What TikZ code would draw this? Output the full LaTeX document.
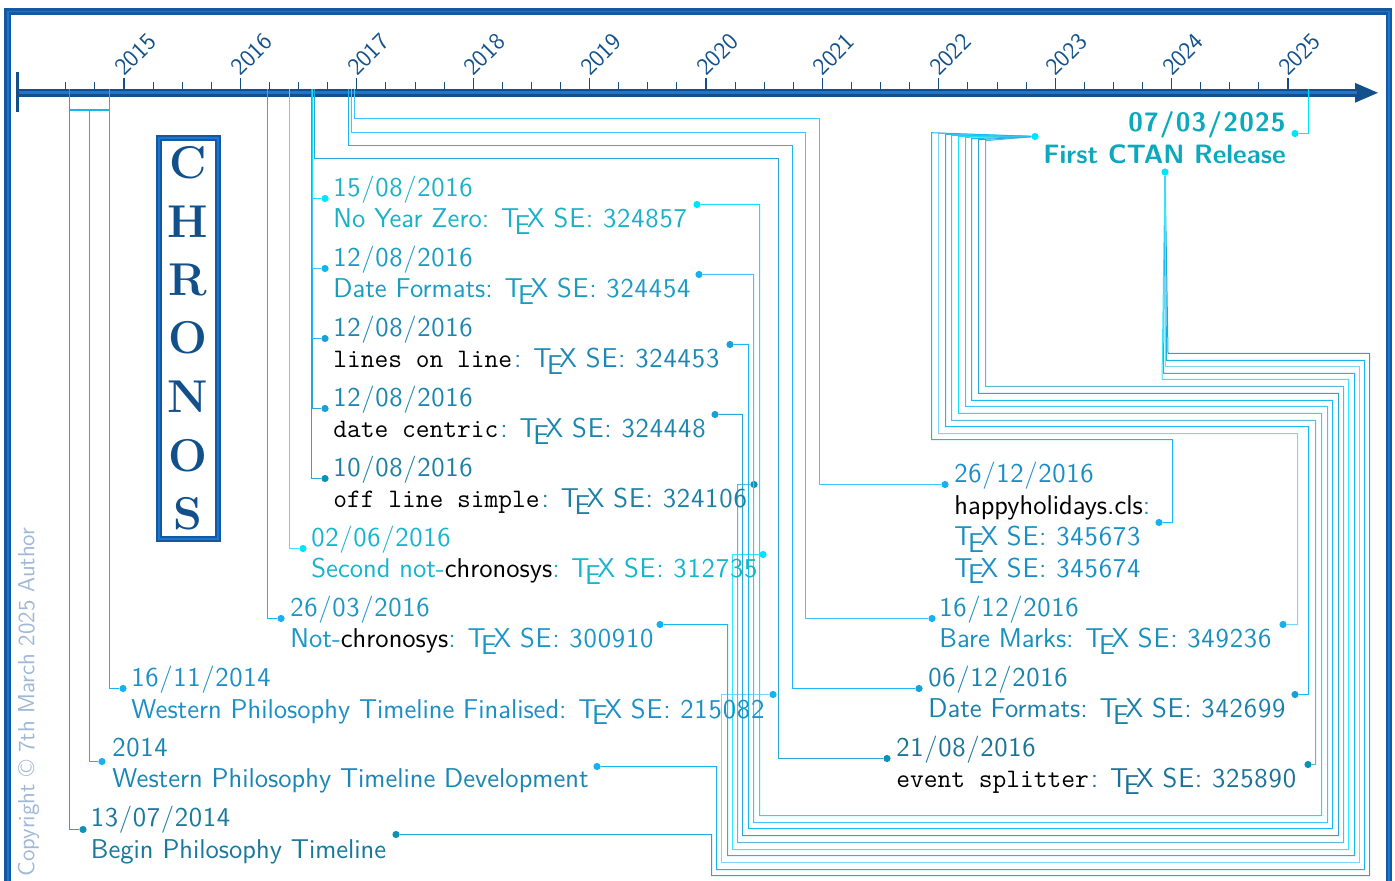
\documentclass[tikz,border=0pt]{standalone}
\usepackage{fontspec}
\setsansfont{Latin Modern Sans}
\usetikzlibrary{arrows.meta}
\definecolor{axisdark}{HTML}{12508C}
\definecolor{axismid}{HTML}{1976D2}
\definecolor{framedark}{HTML}{1459A0}
\definecolor{copytext}{HTML}{A0B8D8}
\definecolor{lnBegin}{HTML}{20A8D8}
\definecolor{lnDev}{HTML}{18B4EC}
\definecolor{lnFinal}{HTML}{7CD4F8}
\definecolor{lnNot}{HTML}{1AB7EE}
\definecolor{lnSecond}{HTML}{30EBFF}
\definecolor{lnOff}{HTML}{5BB8DA}
\definecolor{lnCentric}{HTML}{29A8D8}
\definecolor{lnLines}{HTML}{18B8F5}
\definecolor{lnFormats}{HTML}{40C4FF}
\definecolor{lnZero}{HTML}{18E0F8}
\definecolor{lnCtan}{HTML}{00E5FF}
\definecolor{dotBegin}{HTML}{0E90B8}
\definecolor{dotBright}{HTML}{18B0F0}
\definecolor{dotMid}{HTML}{1AA0D8}
\definecolor{txBegin}{HTML}{1A789C}
\definecolor{txDev}{HTML}{1A86B4}
\definecolor{txFinal}{HTML}{1C8FC6}
\definecolor{txNot}{HTML}{1C96C8}
\definecolor{txSecond}{HTML}{14B5CE}
\definecolor{txOff}{HTML}{1C7FA5}
\definecolor{txCentric}{HTML}{1A86AE}
\definecolor{txLines}{HTML}{1C87B4}
\definecolor{txFormats}{HTML}{1A9BC2}
\definecolor{txZero}{HTML}{1AB0C6}
\definecolor{txSplit}{HTML}{1A7296}
\definecolor{txPhd}{HTML}{1A80AC}
\definecolor{txMarks}{HTML}{1890BE}
\definecolor{txHappy}{HTML}{1A8EC6}
\definecolor{txCtan}{HTML}{0CA9BD}
\newcommand{\spaced}[1]{{\addfontfeature{LetterSpace=3}#1}}
\newcommand{\evdate}[1]{{\addfontfeature{LetterSpace=2.5}#1}}
\newcommand{\sepost}[1]{\TeX{} \spaced{SE: #1}}
\newcommand{\pkgname}[1]{{\color{black}\ttfamily\fontsize{13.35}{15.8}\selectfont #1}\kern1pt}
\tikzset{
  framebox/.style={draw=framedark, line width=1.3pt, double=axismid, double distance=.8pt},
  dot/.style={circle, inner sep=0pt, minimum size=3.6pt},
  link/.style={line width=.5pt},
  event/.style={font=\sffamily\fontsize{13.6}{15.8}\selectfont, inner sep=0pt, anchor=west, align=left},
  year/.style={font=\sffamily\fontsize{12}{14}\selectfont, text=axisdark, rotate=45, inner sep=0pt},
  yeartick/.style={draw=axisdark, line width=.6pt},
  monthtick/.style={draw=axisdark, line width=.5pt}
}
\begin{document}
\begin{tikzpicture}[x=.5pt, y=-.5pt]
  \clip (0,0) rectangle (1395,881);
  \path[use as bounding box] (0,0) rectangle (1395,881);

  \draw[framebox] (7.7,11.7) rectangle (1389,900);

  \coordinate (axstart) at (18,92.8);
  \coordinate (axend)   at (1379,92.8);
  \draw[axisdark, line width=3.8pt, -{Triangle[length=12pt,width=8.9pt]}] (axstart) -- (axend);
  \draw[axismid, line width=1.4pt] (axstart) -- (1357,92.8);
  \draw[axisdark, line width=1.5pt] (17.5,72) -- (17.5,112.5);
  \foreach \k in {-2,...,39}
    \draw[monthtick] (124+29.1*\k,89) -- ++(0,-7);
  \foreach \yr [count=\i from 0] in {2015,...,2025}{
    \draw[yeartick] (124+116.4*\i,89) -- ++(0,-11);
    \node[year] (y\yr) at (135.5+116.4*\i,54.5) {\yr};
  }

  \node[framebox, minimum width=29.5pt, minimum height=200.5pt, inner sep=0pt] (title) at (188.5,338.5) {};
  \foreach \c/\p in {C/163,H/222,R/280,O/338,N/397,O/456,S/514}
    \node[font=\rmfamily\bfseries\fontsize{23}{23}\selectfont, text=axisdark, inner sep=0pt] (ch\p) at (188,\p) {\c};

  \node[font=\sffamily\fontsize{11.7}{12}\selectfont, text=copytext, rotate=90, inner sep=0pt, anchor=west] (copy) at (28.5,877)
    {Copyright \textcopyright{} 7th March 2025 Author};

  \coordinate (axBegin)  at (69.5,89);
  \coordinate (axFinal)  at (109.5,89);
  \coordinate (axNot)    at (267.5,89);
  \coordinate (axSecond) at (289.5,89);
  \coordinate (axOff)    at (311.5,89);
  \coordinate (axCentric) at (312,89);
  \coordinate (axLines)  at (312,89);
  \coordinate (axFormats) at (312.3,89);
  \coordinate (axZero)   at (312.5,89);
  \coordinate (axSplit)  at (314.5,89);
  \coordinate (axPhd)    at (348.5,89);
  \coordinate (axMarks)  at (351.5,89);
  \coordinate (axHappy)  at (354.5,89);
  \coordinate (axCtan)   at (1308.5,89);
  \coordinate (barL) at (69.5,110);
  \coordinate (barM) at (89.5,110);
  \coordinate (barR) at (109.5,110);

  \node[dot, fill=dotBegin]  (dBeginL)  at (83,829.5) {};
  \node[dot, fill=dotBegin]  (dBeginR)  at (396,834.5) {};
  \node[dot, fill=dotBright] (dDevL)    at (102,761.5) {};
  \node[dot, fill=dotBright] (dDevR)    at (597,766.5) {};
  \node[dot, fill=dotBright] (dFinalL)  at (123,688.5) {};
  \node[dot, fill=dotBright] (dFinalR)  at (773,694.5) {};
  \node[dot, fill=dotBright] (dNotL)    at (281,618.5) {};
  \node[dot, fill=dotBright] (dNotR)    at (660,624.5) {};
  \node[dot, fill=lnCtan]    (dSecondL) at (303,548.5) {};
  \node[dot, fill=lnCtan]    (dSecondR) at (763,554.5) {};
  \node[dot, fill=dotBegin]  (dOffL)    at (325,478.5) {};
  \node[dot, fill=dotBegin]  (dOffR)    at (754,484.5) {};
  \node[dot, fill=dotMid]    (dCentricL) at (325,408.5) {};
  \node[dot, fill=dotMid]    (dCentricR) at (715,414.5) {};
  \node[dot, fill=dotMid]    (dLinesL)  at (325,338.5) {};
  \node[dot, fill=dotMid]    (dLinesR)  at (730,344.5) {};
  \node[dot, fill=dotBright] (dFormatsL) at (325,268.5) {};
  \node[dot, fill=dotBright] (dFormatsR) at (699,274.5) {};
  \node[dot, fill=lnCtan]    (dZeroL)   at (325,198.5) {};
  \node[dot, fill=lnCtan]    (dZeroR)   at (697,204.5) {};
  \node[dot, fill=dotBegin]  (dSplitL)  at (887,758.5) {};
  \node[dot, fill=dotBegin]  (dSplitR)  at (1308,764.5) {};
  \node[dot, fill=dotMid]    (dPhdL)    at (919,688.5) {};
  \node[dot, fill=dotMid]    (dPhdR)    at (1295,694.5) {};
  \node[dot, fill=dotBright] (dMarksL)  at (932,618.5) {};
  \node[dot, fill=dotBright] (dMarksR)  at (1283,624.5) {};
  \node[dot, fill=dotBright] (dHappyL)  at (945,484.5) {};
  \node[dot, fill=dotBright] (dHappyR)  at (1159,522.5) {};
  \node[dot, fill=lnCtan]    (dCtanR)   at (1295,133.5) {};
  \node[dot, fill=lnCtan]    (dCtanW)   at (1035,136.5) {};
  \node[dot, fill=lnCtan]    (dCtanS)   at (1165,172) {};

  \draw[link, draw=lnBegin]   (axBegin) |- (dBeginL);
  \draw[link, draw=lnDev, line width=1pt] (barL) -- (barR);
  \draw[link, draw=lnDev]     (barM) |- (dDevL);
  \draw[link, draw=lnDev]     (axFinal) |- (dFinalL);
  \draw[link, draw=lnNot]     (axNot) |- (dNotL);
  \draw[link, draw=lnSecond]  (axSecond) |- (dSecondL);
  \draw[link, draw=lnCentric] (axOff) |- (dOffL);
  \draw[link, draw=lnCentric] (axCentric) |- (dCentricL);
  \draw[link, draw=lnLines]   (axLines) |- (dLinesL);
  \draw[link, draw=lnFormats] (axFormats) |- (dFormatsL);
  \draw[link, draw=lnZero]    (axZero) |- (dZeroL);
  \draw[link, draw=lnCentric] (axSplit) |- (778.5,158.5) |- (dSplitL);
  \draw[link, draw=lnLines]   (axPhd) |- (792.5,145.5) |- (dPhdL);
  \draw[link, draw=lnFormats] (axMarks) |- (805.5,132.5) |- (dMarksL);
  \draw[link, draw=lnFormats] (axHappy) |- (819.5,118.5) |- (dHappyL);
  \draw[link, draw=lnCtan]    (axCtan) |- (dCtanR);

  \draw[link, draw=lnBegin]   (dBeginR)   -| (711.5,875.5) -| (1369.5,353.5) -| (1168,353.5) -- (dCtanS);
  \draw[link, draw=lnDev]     (dDevR)     -| (716.5,869.5) -| (1364.5,360.5) -| (1166.5,360.5) -- (dCtanS);
  \draw[link, draw=lnFinal]   (dFinalR)   -| (721.5,862.5) -| (1359.5,366.5) -| (1165,366.5) -- (dCtanS);
  \draw[link, draw=lnNot]     (dNotR)     -| (727.5,855.5) -| (1354.5,373.5) -| (1163.5,373.5) -- (dCtanS);
  \draw[link, draw=lnSecond]  (dSecondR)  -| (732.5,849.5) -| (1348.5,379.5) -| (1162,379.5) -- (dCtanS);
  \draw[link, draw=lnOff]     (dOffR)     -| (737.5,842.5) -| (1343.5,386.5) -| (985.5,386.5) -- (985.5,140.7) -- (dCtanW);
  \draw[link, draw=lnCentric] (dCentricR) -| (742.5,835.5) -| (1338.5,393.5) -| (978.5,393.5) -- (978.5,139.7) -- (dCtanW);
  \draw[link, draw=lnLines]   (dLinesR)   -| (748.5,828.5) -| (1332.5,400.5) -| (971.5,400.5) -- (971.5,138.7) -- (dCtanW);
  \draw[link, draw=lnFormats] (dFormatsR) -| (753.5,822.5) -| (1327.5,406.5) -| (965.5,406.5) -- (965.5,137.3) -- (dCtanW);
  \draw[link, draw=lnZero]    (dZeroR)    -| (759.5,815.5) -| (1321.5,413.5) -| (958.5,413.5) -- (958.5,136.3) -- (dCtanW);
  \draw[link, draw=lnOff]     (dSplitR)   -| (1315.5,420.5) -| (951.5,420.5) -- (951.5,135.3) -- (dCtanW);
  \draw[link, draw=lnLines]   (dPhdR)     -| (1308.5,426.5) -| (945.5,426.5) -- (945.5,134.3) -- (dCtanW);
  \draw[link, draw=lnFinal]   (dMarksR)   -| (1297.5,433.5) -| (938.5,433.5) -- (938.5,133.3) -- (dCtanW);
  \draw[link, draw=lnLines]   (dHappyR)   -| (1172.5,439.5) -| (931.5,439.5) -- (931.5,132.7) -- (dCtanW);

  \node[event, text=txBegin]   (begin)   at (90.5,835)  {\evdate{13/07/2014}\\Begin Philosophy Timeline};
  \node[event, text=txDev]     (dev)     at (112,765.5) {\evdate{2014}\\Western Philosophy Timeline Development};
  \node[event, text=txFinal]   (final)   at (131,695.5) {\evdate{16/11/2014}\\Western Philosophy Timeline Finalised: \sepost{215082}};
  \node[event, text=txNot]     (notchr)  at (290,625) {\evdate{26/03/2016}\\Not-{\color{black}chronosys}: \sepost{300910}};
  \node[event, text=txSecond]  (second)  at (311,555) {\evdate{02/06/2016}\\Second not-{\color{black}chronosys}: \sepost{312735}};
  \node[event, text=txOff]     (offline) at (333,485) {\evdate{10/08/2016}\\\pkgname{off line simple}: \sepost{324106}};
  \node[event, text=txCentric] (centric) at (333,415) {\evdate{12/08/2016}\\\pkgname{date centric}: \sepost{324448}};
  \node[event, text=txLines]   (lines)   at (333,345) {\evdate{12/08/2016}\\\pkgname{lines on line}: \sepost{324453}};
  \node[event, text=txFormats] (formats) at (333,275) {\evdate{12/08/2016}\\Date Formats: \sepost{324454}};
  \node[event, text=txZero]    (zero)    at (333,205) {\evdate{15/08/2016}\\No Year Zero: \sepost{324857}};
  \node[event, text=txSplit]   (split)   at (896,765) {\evdate{21/08/2016}\\\pkgname{event splitter}: \sepost{325890}};
  \node[event, text=txPhd]     (formats2) at (928,695) {\evdate{06/12/2016}\\Date Formats: \sepost{342699}};
  \node[event, text=txMarks]   (marks)   at (939,625) {\evdate{16/12/2016}\\Bare Marks: \sepost{349236}};
  \node[event, text=txHappy]   (happy)   at (954,523) {\evdate{26/12/2016}\\{\color{black}happyholidays.cls}:\\\sepost{345673}\\\sepost{345674}};
  \node[event, text=txCtan, align=right, anchor=east, font=\sffamily\bfseries\fontsize{13.3}{16}\selectfont] (ctan) at (1286,138)
    {{\addfontfeature{LetterSpace=4.6}07/03/2025}\\First CTAN Release};
\end{tikzpicture}
\end{document}
